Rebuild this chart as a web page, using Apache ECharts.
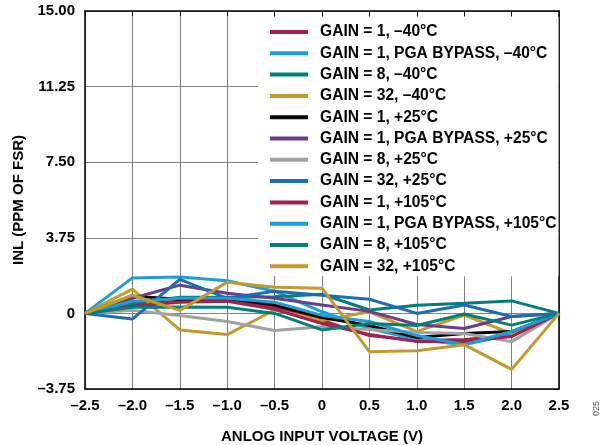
<!DOCTYPE html>
<html>
<head>
<meta charset="utf-8">
<script src="https://cdn.jsdelivr.net/npm/echarts@6/dist/echarts.min.js"></script>
<style>html,body{margin:0;padding:0;background:#fff;overflow:hidden}#c{width:608px;height:445px}</style>
</head>
<body>
<div id="c"></div>
<script>
var xValues = [-2.5, -2.0, -1.5, -1.0, -0.5, 0, 0.5, 1.0, 1.5, 2.0, 2.5];
var xTickLabels = ['–2.5','–2.0','–1.5','–1.0','–0.5','0','0.5','1.0','1.5','2.0','2.5'];
var yTickLabels = ['–3.75','0','3.75','7.50','11.25','15.00'];
var seriesNames = [
  'GAIN = 1, –40°C',
  'GAIN = 1, PGA BYPASS, –40°C',
  'GAIN = 8, –40°C',
  'GAIN = 32, –40°C',
  'GAIN = 1, +25°C',
  'GAIN = 1, PGA BYPASS, +25°C',
  'GAIN = 8, +25°C',
  'GAIN = 32, +25°C',
  'GAIN = 1, +105°C',
  'GAIN = 1, PGA BYPASS, +105°C',
  'GAIN = 8, +105°C',
  'GAIN = 32, +105°C'
];
var seriesColors = ['#a3214f','#1aa0d8','#00807a','#c49a2c','#000000','#6a3d8f','#a0a0a0','#1c6db3','#a3214f','#1aa0d8','#00807a','#c49a2c'];
var g1m40   = [0, 0.45, 0.60, 0.70, 0.30, -0.35, -1.10, -1.35, -1.30, -1.10, 0];
var pgam40  = [0, 1.76, 1.80, 1.62, 1.10, 0.08, -0.75, -1.30, -1.55, -1.05, 0];
var g8m40   = [0, 0.50, 0.80, 0.80, 0.83, 0.95, 0.17, 0.40, 0.50, 0.62, 0];
var g32m40  = [0, 1.20, -0.82, -1.05, 0.17, -0.35, 0.08, -0.90, -0.08, -1.00, 0];
var g1p25   = [0, 0.85, 0.70, 0.75, 0.42, -0.20, -0.60, -1.20, -1.00, -0.90, 0];
var pgap25  = [0, 0.75, 1.40, 1.00, 0.75, 0.42, 0.10, -0.55, -0.75, -0.15, 0];
var g8p25   = [0, 0.15, -0.10, -0.40, -0.85, -0.66, -0.80, -0.95, -1.00, -1.40, 0];
var g32p25  = [0, -0.28, 1.69, 0.75, 1.10, 0.90, 0.70, 0.00, 0.42, -0.15, 0];
var g1p105  = [0, 0.35, 0.55, 0.60, 0.20, -0.50, -1.05, -1.40, -1.40, -1.15, 0];
var pgap105 = [0, 0.60, 0.75, 0.75, 0.55, -0.10, -0.40, -1.10, -1.55, -0.90, 0];
var g8p105  = [0, 0.30, 0.32, 0.30, 0.00, -0.82, -0.50, -0.60, -0.03, -0.58, 0];
var g32p105 = [0, 0.90, 0.15, 1.55, 1.30, 1.25, -1.90, -1.85, -1.55, -2.78, 0];
var seriesValues = [g1m40, pgam40, g8m40, g32m40, g1p25, pgap25, g8p25, g32p25, g1p105, pgap105, g8p105, g32p105];

var FONT = 'Liberation Sans';
function xLabel(v){ var i = Math.round((v + 2.5) / 0.5); return xTickLabels[i] || ''; }
function yLabel(v){ var i = Math.round((v + 3.75) / 3.75); return yTickLabels[i] || ''; }

var series = seriesValues.map(function(vals, k){
  return {
    name: seriesNames[k],
    type: 'line',
    symbol: 'none',
    data: vals.map(function(v, i){ return [xValues[i], v]; }),
    lineStyle: { color: seriesColors[k], width: 3 },
    itemStyle: { color: seriesColors[k] },
    z: 2
  };
});

var chart = echarts.init(document.getElementById('c'), null, {renderer: 'canvas'});
chart.setOption({
  backgroundColor: '#fff',
  animation: false,
  grid: { left: 85, right: 49, top: 11, bottom: 56, containLabel: false, outerBoundsMode: 'none' },
  legend: {
    orient: 'vertical',
    left: 258, top: 17,
    padding: [7, 2, 2, 12],
    backgroundColor: '#fff',
    itemWidth: 38, itemHeight: 15, itemGap: 5.3,
    icon: 'path://M0,0 H38 V4 H0 Z',
    data: seriesNames,
    textStyle: { fontFamily: FONT, fontWeight: 'bold', fontSize: 15.6, lineHeight: 15, color: '#000', padding: [0,0,0,7] },
    selectedMode: false,
    z: 10
  },
  xAxis: [{
    type: 'value', min: -2.5, max: 2.5, interval: 0.5,
    name: 'ANLOG INPUT VOLTAGE (V)', nameLocation: 'middle', nameGap: 40,
    nameTextStyle: { fontFamily: FONT, fontWeight: 'bold', fontSize: 15, color: '#000' },
    axisLine: { show: true, onZero: false, lineStyle: { color: '#000', width: 1.5 } },
    axisTick: { show: false },
    axisLabel: { formatter: xLabel, margin: 9, fontFamily: FONT, fontWeight: 'bold', fontSize: 15, color: '#000' },
    splitLine: { show: true, lineStyle: { color: '#808080', width: 1 } }
  }, {
    type: 'value', min: -2.5, max: 2.5, interval: 0.5, position: 'top',
    axisLine: { show: true, onZero: false, lineStyle: { color: '#000', width: 1.5 } },
    axisTick: { show: true, inside: true, length: 5, lineStyle: { color: '#000' } },
    axisLabel: { show: false }, splitLine: { show: false }
  }],
  yAxis: [{
    type: 'value', min: -3.75, max: 15, interval: 3.75,
    name: 'INL (PPM OF FSR)', nameLocation: 'middle', nameGap: 55,
    nameTextStyle: { fontFamily: FONT, fontWeight: 'bold', fontSize: 15, color: '#000' },
    axisLine: { show: true, onZero: false, lineStyle: { color: '#000', width: 1.5 } },
    axisTick: { show: false },
    axisLabel: { formatter: yLabel, margin: 10, fontFamily: FONT, fontWeight: 'bold', fontSize: 15, color: '#000' },
    splitLine: { show: true, lineStyle: { color: '#808080', width: 1 } }
  }, {
    type: 'value', min: -3.75, max: 15, interval: 3.75, position: 'right',
    axisLine: { show: true, onZero: false, lineStyle: { color: '#000', width: 1.5 } },
    axisTick: { show: true, inside: true, length: 5, lineStyle: { color: '#000' } },
    axisLabel: { show: false }, splitLine: { show: false }
  }],
  graphic: [{
    type: 'text', left: 592, top: 401, rotation: Math.PI / 2,
    style: { text: '025', fontFamily: FONT, fontSize: 9, fill: '#555' }
  }],
  series: series
});
</script>
</body>
</html>
